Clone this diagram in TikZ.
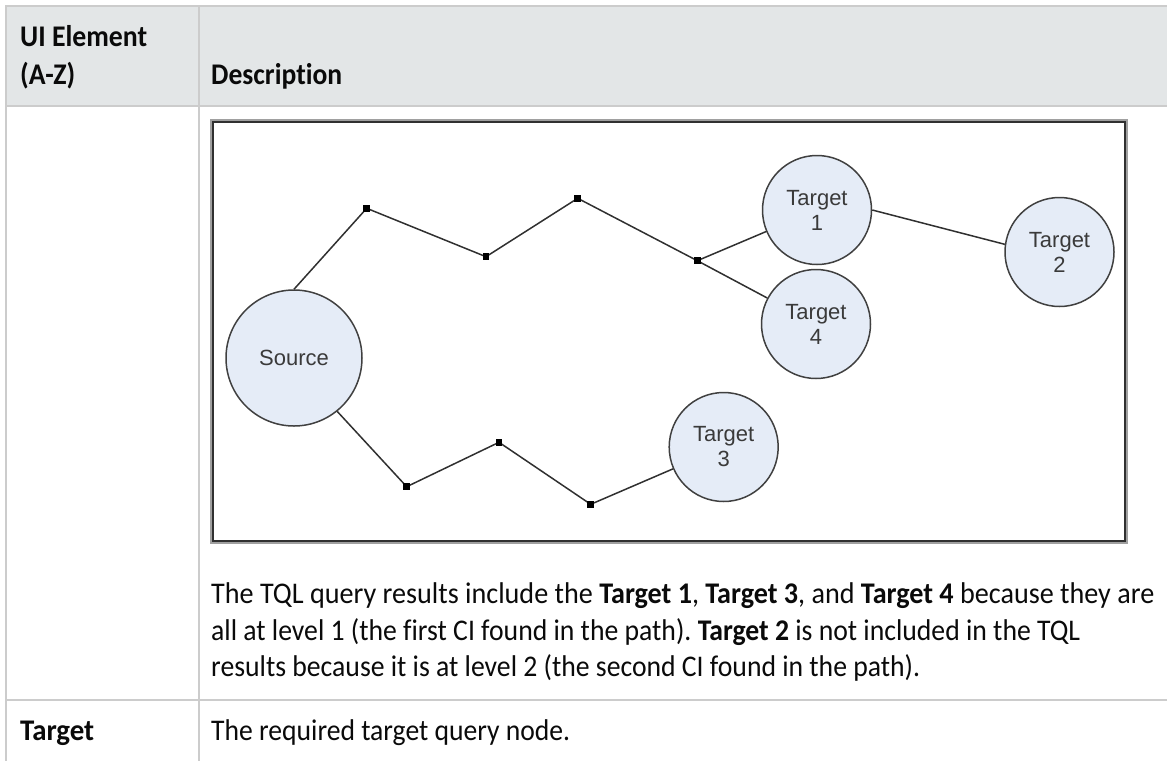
\documentclass[tikz,border=0pt]{standalone}
\usepackage{fontspec}
\setmainfont{Carlito}[Ligatures=NoCommon]
\newfontfamily\diagfont{Liberation Sans}
\frenchspacing
\definecolor{hdrbg}{HTML}{E3E6E7}
\definecolor{rulec}{HTML}{CCCCCC}
\definecolor{nodefill}{HTML}{E5ECF7}
\definecolor{nodeline}{HTML}{404040}
\definecolor{frameout}{HTML}{A0A0A0}
\definecolor{frameline}{HTML}{303030}
\definecolor{lbl}{HTML}{3A3A3A}
\definecolor{txt}{HTML}{0A0A0A}
\newcommand{\fitw}[2]{\resizebox{#1}{\height}{#2}}
\tikzset{
  tabtext/.style={anchor=base west, inner sep=0pt, text=txt, font=\fontsize{30}{36}\selectfont},
  hdrtext/.style={tabtext, font=\fontsize{30}{36}\selectfont\bfseries},
  ci/.style={circle, draw=nodeline, line width=1.5pt, fill=nodefill, inner sep=0pt,
    minimum size=109pt, align=center, text=lbl, font=\diagfont\fontsize{22}{25}\selectfont},
  bigci/.style={ci, minimum size=136pt},
  wp/.style={rectangle, fill=black, inner sep=0pt, minimum size=6.5pt},
  link/.style={draw=frameline, line width=1.5pt},
  tabrule/.style={draw=rulec, line width=2pt}
}
\begin{document}
\begin{tikzpicture}[x=1pt, y=-1pt]
\useasboundingbox (0,0) rectangle (1167,761);
\clip (0,0) rectangle (1167,761);
% table
\fill[hdrbg] (5,6) rectangle (1167,106);
\draw[tabrule] (5,6) -- (1167,6);
\draw[tabrule] (5,106) -- (1167,106);
\draw[tabrule] (5,700) -- (1167,700);
\draw[tabrule] (6,5) -- (6,761);
\draw[tabrule] (198.5,5) -- (198.5,761);
% header
\node[hdrtext] (h1) at (20,46.7) {\fitw{127pt}{UI Element}};
\node[hdrtext] (h2) at (20,84.5) {\fitw{55pt}{(A-Z)}};
\node[hdrtext] (h3) at (211,84.5) {\fitw{131pt}{Description}};
% frame
\draw[frameout, line width=3pt] (211,120) rectangle (1126,542);
\draw[frameline, line width=2pt] (212.5,121.5) rectangle (1124.5,540.5);
% diagram nodes
\node[bigci] (S) at (294,358) {Source};
\node[ci] (T1) at (817,210) {Target\\1};
\node[ci] (T4) at (816,324) {Target\\4};
\node[ci] (T2) at (1059.5,252) {Target\\2};
\node[ci] (T3) at (723.7,447) {Target\\3};
\node[wp] (P1) at (366.7,208.3) {};
\node[wp] (P2) at (486,256.7) {};
\node[wp] (P3) at (577.7,198.3) {};
\node[wp] (P4) at (697.3,260.7) {};
\node[wp] (Q1) at (406.7,486.7) {};
\node[wp] (Q2) at (499,442.3) {};
\node[wp] (Q3) at (590.7,504.3) {};
% connectors
\draw[link] (S.north) -- (P1.center) -- (P2.center) -- (P3.center) -- (P4.center);
\draw[link] (P4.center) -- (T1);
\draw[link] (P4.center) -- (T4);
\draw[link] (T1.east) -- (T2.172);
\draw[link] (S.-51) -- (Q1.center) -- (Q2.center) -- (Q3.center);
\draw[link] (Q3.center) -- (T3);
% redraw waypoints on top
\foreach \n in {P1,P2,P3,P4,Q1,Q2,Q3} { \fill[black] ([shift={(-3.25pt,-3.25pt)}]\n.center) rectangle ([shift={(3.25pt,3.25pt)}]\n.center); }
% paragraph
\node[tabtext] (l1) at (211,603.3) {\fitw{943pt}{The TQL query results include the \textbf{Target 1}, \textbf{Target 3}, and \textbf{Target 4} because they are}};
\node[tabtext] (l2) at (211,640) {\fitw{869pt}{all at level 1 (the first CI found in the path). \textbf{Target 2} is not included in the TQL}};
\node[tabtext] (l3) at (211,676.7) {\fitw{709pt}{results because it is at level 2 (the second CI found in the path).}};
% second row
\node[hdrtext] (r1) at (20,740) {\fitw{74pt}{Target}};
\node[tabtext] (r2) at (211,740) {\fitw{359pt}{The required target query node.}};
\end{tikzpicture}
\end{document}
